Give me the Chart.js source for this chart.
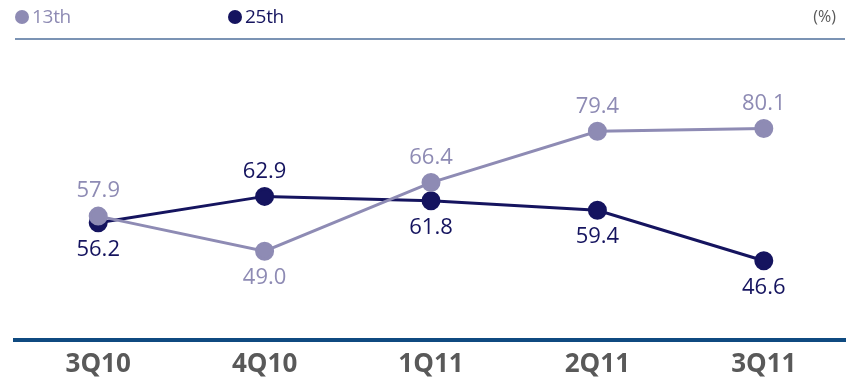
<!DOCTYPE html>
<html>
<head>
<meta charset="utf-8">
<script src="https://cdn.jsdelivr.net/npm/chart.js@4/dist/chart.umd.min.js"></script>
<style>
    html, body { margin: 0; padding: 0; background: #fff; }
    body { width: 852px; height: 379px; position: relative; overflow: hidden; font-family: "Open Sans", sans-serif; }
    #chartWrap { position: absolute; left: 0; top: 0; width: 846px; height: 379px; overflow: hidden; }
    .legend { position: absolute; top: 4px; font-size: 19px; line-height: 24px; letter-spacing: -0.3px; }
    .legend .dot { display: inline-block; width: 14px; height: 14px; border-radius: 50%; vertical-align: -1px; margin-right: 3px; }
    .unit { position: absolute; right: 16px; top: 5px; font-size: 16px; line-height: 22px; color: #595959; }
    .rule { position: absolute; left: 15px; width: 830px; top: 38px; height: 2px; background: #7b93b4; }
</style>
</head>
<body>
<div id="chartWrap"><canvas id="lineChart" width="858" height="379"></canvas></div>
<div class="legend" style="left:15px;color:#8e8bb4"><span class="dot" style="background:#8e8bb4"></span>13th</div>
<div class="legend" style="left:228px;color:#15145f"><span class="dot" style="background:#15145f"></span>25th</div>
<div class="unit">(%)</div>
<div class="rule"></div>

<script>
// Dados do gráfico
const quarters = ['3Q10', '4Q10', '1Q11', '2Q11', '3Q11'];
const values13th = [57.9, 49.0, 66.4, 79.4, 80.1];
const values25th = [56.2, 62.9, 61.8, 59.4, 46.6];

const colorLight = '#8e8bb4';
const colorDark = '#15145f';

// Rótulos de valor acima/abaixo de cada ponto
const valueLabels = {
    id: 'valueLabels',
    afterDatasetsDraw(chart) {
        const ctx = chart.ctx;
        ctx.save();
        ctx.font = '22px "Open Sans", sans-serif';
        ctx.textAlign = 'center';
        ctx.textBaseline = 'middle';
        chart.data.datasets.forEach((ds, i) => {
            const meta = chart.getDatasetMeta(i);
            ctx.fillStyle = ds.borderColor;
            meta.data.forEach((pt, j) => {
                const dy = ds.labelSide[j] === 'up' ? -25 : 27;
                ctx.fillText(ds.data[j].toFixed(1), pt.x, pt.y + dy);
            });
        });
        ctx.restore();
    }
};

document.addEventListener('DOMContentLoaded', function() {
    const ctx = document.getElementById('lineChart').getContext('2d');
    new Chart(ctx, {
        type: 'line',
        data: {
            labels: quarters,
            datasets: [
                {
                    label: '13th',
                    data: values13th,
                    borderColor: colorLight,
                    backgroundColor: colorLight,
                    borderWidth: 3,
                    pointRadius: 8,
                    pointHoverRadius: 8,
                    labelSide: ['up', 'down', 'up', 'up', 'up']
                },
                {
                    label: '25th',
                    data: values25th,
                    borderColor: colorDark,
                    backgroundColor: colorDark,
                    borderWidth: 3,
                    pointRadius: 8,
                    pointHoverRadius: 8,
                    labelSide: ['down', 'up', 'down', 'down', 'down']
                }
            ]
        },
        options: {
            responsive: false,
            animation: false,
            layout: { padding: { left: 15, right: 0, top: 50, bottom: -11 } },
            scales: {
                x: {
                    offset: true,
                    grid: { display: false, drawTicks: false },
                    border: { display: true, color: '#0f4a80', width: 4 },
                    ticks: {
                        padding: 12,
                        color: '#595959',
                        font: { family: '"Open Sans", sans-serif', size: 26, weight: 'bold', lineHeight: 1 }
                    }
                },
                y: {
                    display: false,
                    min: 26.5,
                    max: 100
                }
            },
            plugins: {
                legend: { display: false },
                tooltip: { enabled: false }
            }
        },
        plugins: [valueLabels]
    });
});
</script>
</body>
</html>
